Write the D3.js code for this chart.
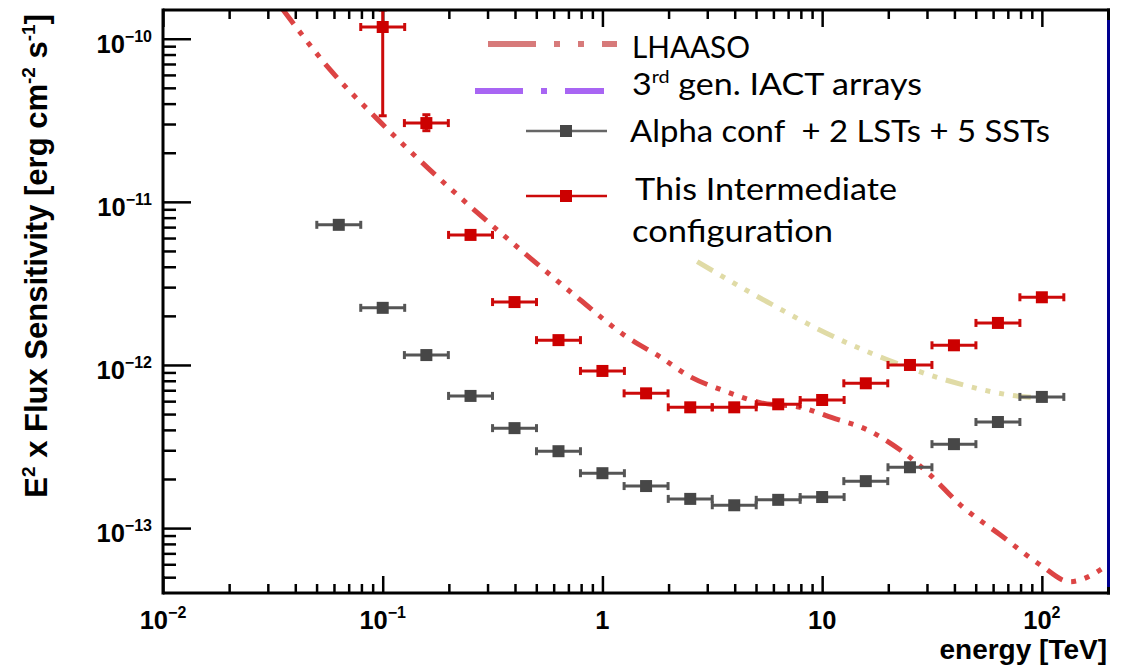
<!DOCTYPE html>
<html><head><meta charset="utf-8">
<script src="https://cdn.jsdelivr.net/npm/d3@7/dist/d3.min.js"></script>
<style>body{margin:0;background:#fff}svg{display:block}</style>
</head><body>
<svg id="c" width="1130" height="665"></svg>
<script>
// ---------------- data ----------------
const xDomain = [0.01, 200];
const yDomain = [4e-14, 1.5e-10];
const xTickExps = [-2, -1, 0, 1, 2];
const xTickLabels = [["10", "\u22122"], ["10", "\u22121"], ["1", ""], ["10", ""], ["10", "2"]];
const yTickExps = [-13, -12, -11, -10];
const yTickLabels = [["10", "\u221213"], ["10", "\u221212"], ["10", "\u221211"], ["10", "\u221210"]];
const binHalfWidthDecades = 0.1;

const alphaEnergy = [0.0631, 0.1, 0.158, 0.251, 0.398, 0.631, 1, 1.58, 2.51, 3.98, 6.31, 10, 15.8, 25.1, 39.8, 63.1, 100];
const alphaSens = [7.23e-12, 2.24e-12, 1.15e-12, 6.46e-13, 4.10e-13, 2.96e-13, 2.17e-13, 1.81e-13, 1.51e-13, 1.38e-13, 1.49e-13, 1.55e-13, 1.94e-13, 2.36e-13, 3.27e-13, 4.47e-13, 6.37e-13];

const interEnergy = [0.1, 0.158, 0.251, 0.398, 0.631, 1, 1.58, 2.51, 3.98, 6.31, 10, 15.8, 25.1, 39.8, 63.1, 100];
const interSens = [1.18e-10, 3.04e-11, 6.27e-12, 2.43e-12, 1.42e-12, 9.19e-13, 6.70e-13, 5.50e-13, 5.50e-13, 5.74e-13, 6.10e-13, 7.72e-13, 1.0e-12, 1.32e-12, 1.81e-12, 2.60e-12];
const interSensLow = [3.37e-11, 2.73e-11, 6.27e-12, 2.43e-12, 1.42e-12, 9.19e-13, 6.70e-13, 5.50e-13, 5.50e-13, 5.74e-13, 6.10e-13, 7.72e-13, 1.0e-12, 1.32e-12, 1.81e-12, 2.60e-12];
const interSensHigh = [1.5e-10, 3.42e-11, 6.27e-12, 2.43e-12, 1.42e-12, 9.19e-13, 6.70e-13, 5.50e-13, 5.50e-13, 5.74e-13, 6.10e-13, 7.72e-13, 1.0e-12, 1.32e-12, 1.81e-12, 2.60e-12];

const lhaasoEnergy = [0.0351, 0.0576, 0.0953, 0.164, 0.277, 0.468, 0.791, 1.25, 1.83, 2.51, 3.47, 5.27, 8.11, 11.1, 16.0, 22.6, 31.0, 42.5, 64.6, 98.2, 134, 200];
const lhaasoSens = [1.51e-10, 6.46e-11, 3.18e-11, 1.57e-11, 8.32e-12, 4.54e-12, 2.51e-12, 1.53e-12, 1.12e-12, 8.47e-13, 7.05e-13, 5.86e-13, 5.47e-13, 4.75e-13, 4.01e-13, 3.02e-13, 2.12e-13, 1.39e-13, 9.10e-14, 5.96e-14, 4.69e-14, 5.96e-14];

const thirdGenEnergy = [2.70, 5.61, 10.4, 19.7, 39.0, 83.0, 96.0];
const thirdGenSens = [4.30e-12, 2.44e-12, 1.57e-12, 1.08e-12, 7.89e-13, 6.38e-13, 6.30e-13];

const legendLabels = ["LHAASO", "3rd gen. IACT arrays", "Alpha conf  + 2 LSTs + 5 SSTs", "This Intermediate", "configuration"];

// ---------------- layout ----------------
const L = 163, R = 1108, T = 10, B = 593;
const svg = d3.select("#c");
const x = d3.scaleLog().domain(xDomain).range([L, R]);
const y = d3.scaleLog().domain(yDomain).range([B, T]);

svg.append("clipPath").attr("id", "plotclip").append("rect")
  .attr("x", L).attr("y", T).attr("width", R - L).attr("height", B - T);

// tick values
const xMajor = xTickExps.map(e => Math.pow(10, e));
const xMinor = [];
xTickExps.forEach(e => { for (let m = 2; m <= 9; m++) { const v = m * Math.pow(10, e); if (v > xDomain[0] && v < xDomain[1]) xMinor.push(v); } });
const yMajor = yTickExps.map(e => Math.pow(10, e));
const yMinor = [];
[-14, -13, -12, -11, -10].forEach(e => { for (let m = 2; m <= 9; m++) { const v = m * Math.pow(10, e); if (v > yDomain[0] && v < yDomain[1]) yMinor.push(v); } });

function styleAxis(g) {
  g.select(".domain").remove();
  g.selectAll(".tick line").attr("stroke", "#000").attr("stroke-width", 2.5);
  g.selectAll(".tick text").remove();
}
svg.append("g").attr("transform", `translate(0,${B})`).call(d3.axisBottom(x).tickValues(xMajor).tickSize(-17).tickFormat("")).call(styleAxis);
svg.append("g").attr("transform", `translate(0,${B})`).call(d3.axisBottom(x).tickValues(xMinor).tickSize(-9).tickFormat("")).call(styleAxis);
svg.append("g").attr("transform", `translate(0,${T})`).call(d3.axisTop(x).tickValues(xMajor).tickSize(-17).tickFormat("")).call(styleAxis);
svg.append("g").attr("transform", `translate(0,${T})`).call(d3.axisTop(x).tickValues(xMinor).tickSize(-9).tickFormat("")).call(styleAxis);
svg.append("g").attr("transform", `translate(${L},0)`).call(d3.axisLeft(y).tickValues(yMajor).tickSize(-28).tickFormat("")).call(styleAxis);
svg.append("g").attr("transform", `translate(${L},0)`).call(d3.axisLeft(y).tickValues(yMinor).tickSize(-13).tickFormat("")).call(styleAxis);

// tick labels
const labFont = "'Liberation Sans', Arial, sans-serif";
xMajor.forEach((v, i) => {
  const t = svg.append("text").attr("x", x(v)).attr("y", 629).attr("text-anchor", "middle")
    .attr("font-family", labFont).attr("font-weight", "bold").attr("font-size", 25.5).attr("fill", "#000");
  t.append("tspan").text(xTickLabels[i][0]);
  if (xTickLabels[i][1]) t.append("tspan").attr("dy", -11).attr("font-size", 16).text(xTickLabels[i][1]);
});
yMajor.forEach((v, i) => {
  const t = svg.append("text").attr("x", 152).attr("y", y(v) + 14).attr("text-anchor", "end")
    .attr("font-family", labFont).attr("font-weight", "bold").attr("font-size", 25.5).attr("fill", "#000");
  t.append("tspan").text(yTickLabels[i][0]);
  t.append("tspan").attr("dy", -11).attr("font-size", 16).text(yTickLabels[i][1]);
});

// axis titles
const yt = svg.append("text").attr("transform", "translate(46.5,14) rotate(-90)").attr("text-anchor", "end")
  .attr("font-family", labFont).attr("font-weight", "bold").attr("font-size", 31).attr("fill", "#000");
yt.append("tspan").text("E");
yt.append("tspan").attr("dy", -12).attr("font-size", 19).text("2");
yt.append("tspan").attr("dy", 12).text(" x Flux Sensitivity [erg cm");
yt.append("tspan").attr("dy", -12).attr("font-size", 19).text("-2");
yt.append("tspan").attr("dy", 12).text(" s");
yt.append("tspan").attr("dy", -12).attr("font-size", 19).text("-1");
yt.append("tspan").attr("dy", 12).text("]");

svg.append("text").attr("x", 1107).attr("y", 659).attr("text-anchor", "end")
  .attr("font-family", labFont).attr("font-weight", "bold").attr("font-size", 28).attr("fill", "#000")
  .text("energy [TeV]");

// ---------------- curves ----------------
const plot = svg.append("g").attr("clip-path", "url(#plotclip)");
const line = d3.line().x(d => x(d[0])).y(d => y(d[1])).curve(d3.curveMonotoneX);
const dashPat = "18,9,5,9,5,9,5,9";
plot.append("path").datum(thirdGenEnergy.map((e, i) => [e, thirdGenSens[i]]))
  .attr("d", line).attr("fill", "none").attr("stroke", "#e0dba6").attr("stroke-width", 5).attr("stroke-dasharray", dashPat);
plot.append("path").datum(lhaasoEnergy.map((e, i) => [e, lhaasoSens[i]]))
  .attr("d", line).attr("fill", "none").attr("stroke", "#dc4444").attr("stroke-width", 5).attr("stroke-dasharray", dashPat);

// ---------------- points ----------------
const f = Math.pow(10, binHalfWidthDecades);
function drawSeries(energy, sens, lo, hi, color, lineColor) {
  const g = plot.append("g");
  energy.forEach((e, i) => {
    const cx = x(e), cy = y(sens[i]);
    const x0 = x(e / f), x1 = x(e * f);
    g.append("line").attr("x1", x0).attr("x2", x1).attr("y1", cy).attr("y2", cy).attr("stroke", lineColor).attr("stroke-width", 3);
    [x0, x1].forEach(xx => g.append("line").attr("x1", xx).attr("x2", xx).attr("y1", cy - 4).attr("y2", cy + 4).attr("stroke", lineColor).attr("stroke-width", 3));
    if (lo && hi && (lo[i] !== sens[i] || hi[i] !== sens[i])) {
      const yl = y(lo[i]), yh = y(hi[i]);
      g.append("line").attr("x1", cx).attr("x2", cx).attr("y1", yh).attr("y2", yl).attr("stroke", lineColor).attr("stroke-width", 3);
      [yl, yh].forEach(yy => g.append("line").attr("x1", cx - 4).attr("x2", cx + 4).attr("y1", yy).attr("y2", yy).attr("stroke", lineColor).attr("stroke-width", 3));
    }
    g.append("rect").attr("x", cx - 6).attr("y", cy - 6).attr("width", 12).attr("height", 12).attr("fill", color);
  });
}
drawSeries(alphaEnergy, alphaSens, null, null, "#474747", "#555555");
drawSeries(interEnergy, interSens, interSensLow, interSensHigh, "#cc0000", "#cc0a0a");

// ---------------- frame ----------------
svg.append("line").attr("x1", L).attr("x2", 1110).attr("y1", T).attr("y2", T).attr("stroke", "#000").attr("stroke-width", 3);
svg.append("line").attr("x1", L).attr("x2", 1110).attr("y1", B).attr("y2", B).attr("stroke", "#000").attr("stroke-width", 3);
svg.append("line").attr("x1", L).attr("x2", L).attr("y1", T - 1.5).attr("y2", B + 1.5).attr("stroke", "#000").attr("stroke-width", 3);
svg.append("line").attr("x1", 1108.5).attr("x2", 1108.5).attr("y1", T - 1.5).attr("y2", B + 1.5).attr("stroke", "#000").attr("stroke-width", 3);
svg.append("line").attr("x1", 1108.5).attr("x2", 1108.5).attr("y1", 20).attr("y2", 587).attr("stroke", "#00008f").attr("stroke-width", 3);

// ---------------- legend ----------------
const legFont = "Lato, 'Open Sans', sans-serif";
const lg = svg.append("g");
lg.append("line").attr("x1", 488).attr("x2", 617).attr("y1", 44).attr("y2", 44).attr("stroke", "#d77a7a").attr("stroke-width", 6).attr("stroke-dasharray", "48,18,6,18,6,18");
lg.append("line").attr("x1", 475).attr("x2", 604).attr("y1", 91).attr("y2", 91).attr("stroke", "#a865f3").attr("stroke-width", 6).attr("stroke-dasharray", "48,18,6,18");
lg.append("line").attr("x1", 526).attr("x2", 607).attr("y1", 131).attr("y2", 131).attr("stroke", "#666").attr("stroke-width", 2.5);
lg.append("rect").attr("x", 560).attr("y", 125).attr("width", 12).attr("height", 12).attr("fill", "#474747");
lg.append("line").attr("x1", 526).attr("x2", 607).attr("y1", 196).attr("y2", 196).attr("stroke", "#cc0a0a").attr("stroke-width", 2.5);
lg.append("rect").attr("x", 560).attr("y", 190).attr("width", 12).attr("height", 12).attr("fill", "#cc0000");

function legText(xp, yp, len) {
  return lg.append("text").attr("x", xp).attr("y", yp).attr("font-family", legFont).attr("font-size", 31)
    .attr("fill", "#000").style("white-space", "pre").attr("textLength", len).attr("lengthAdjust", "spacingAndGlyphs");
}
legText(632, 58, 118).text(legendLabels[0]);
const t3 = legText(632, 95, 290);
t3.append("tspan").text("3");
t3.append("tspan").attr("dy", -12).attr("font-size", 18).text("rd");
t3.append("tspan").attr("dy", 12).text(" gen. IACT arrays");
legText(630, 142, 420).text(legendLabels[2]);
legText(635, 200, 262).text(legendLabels[3]);
legText(632, 242, 201).text(legendLabels[4]);
</script>
</body></html>
